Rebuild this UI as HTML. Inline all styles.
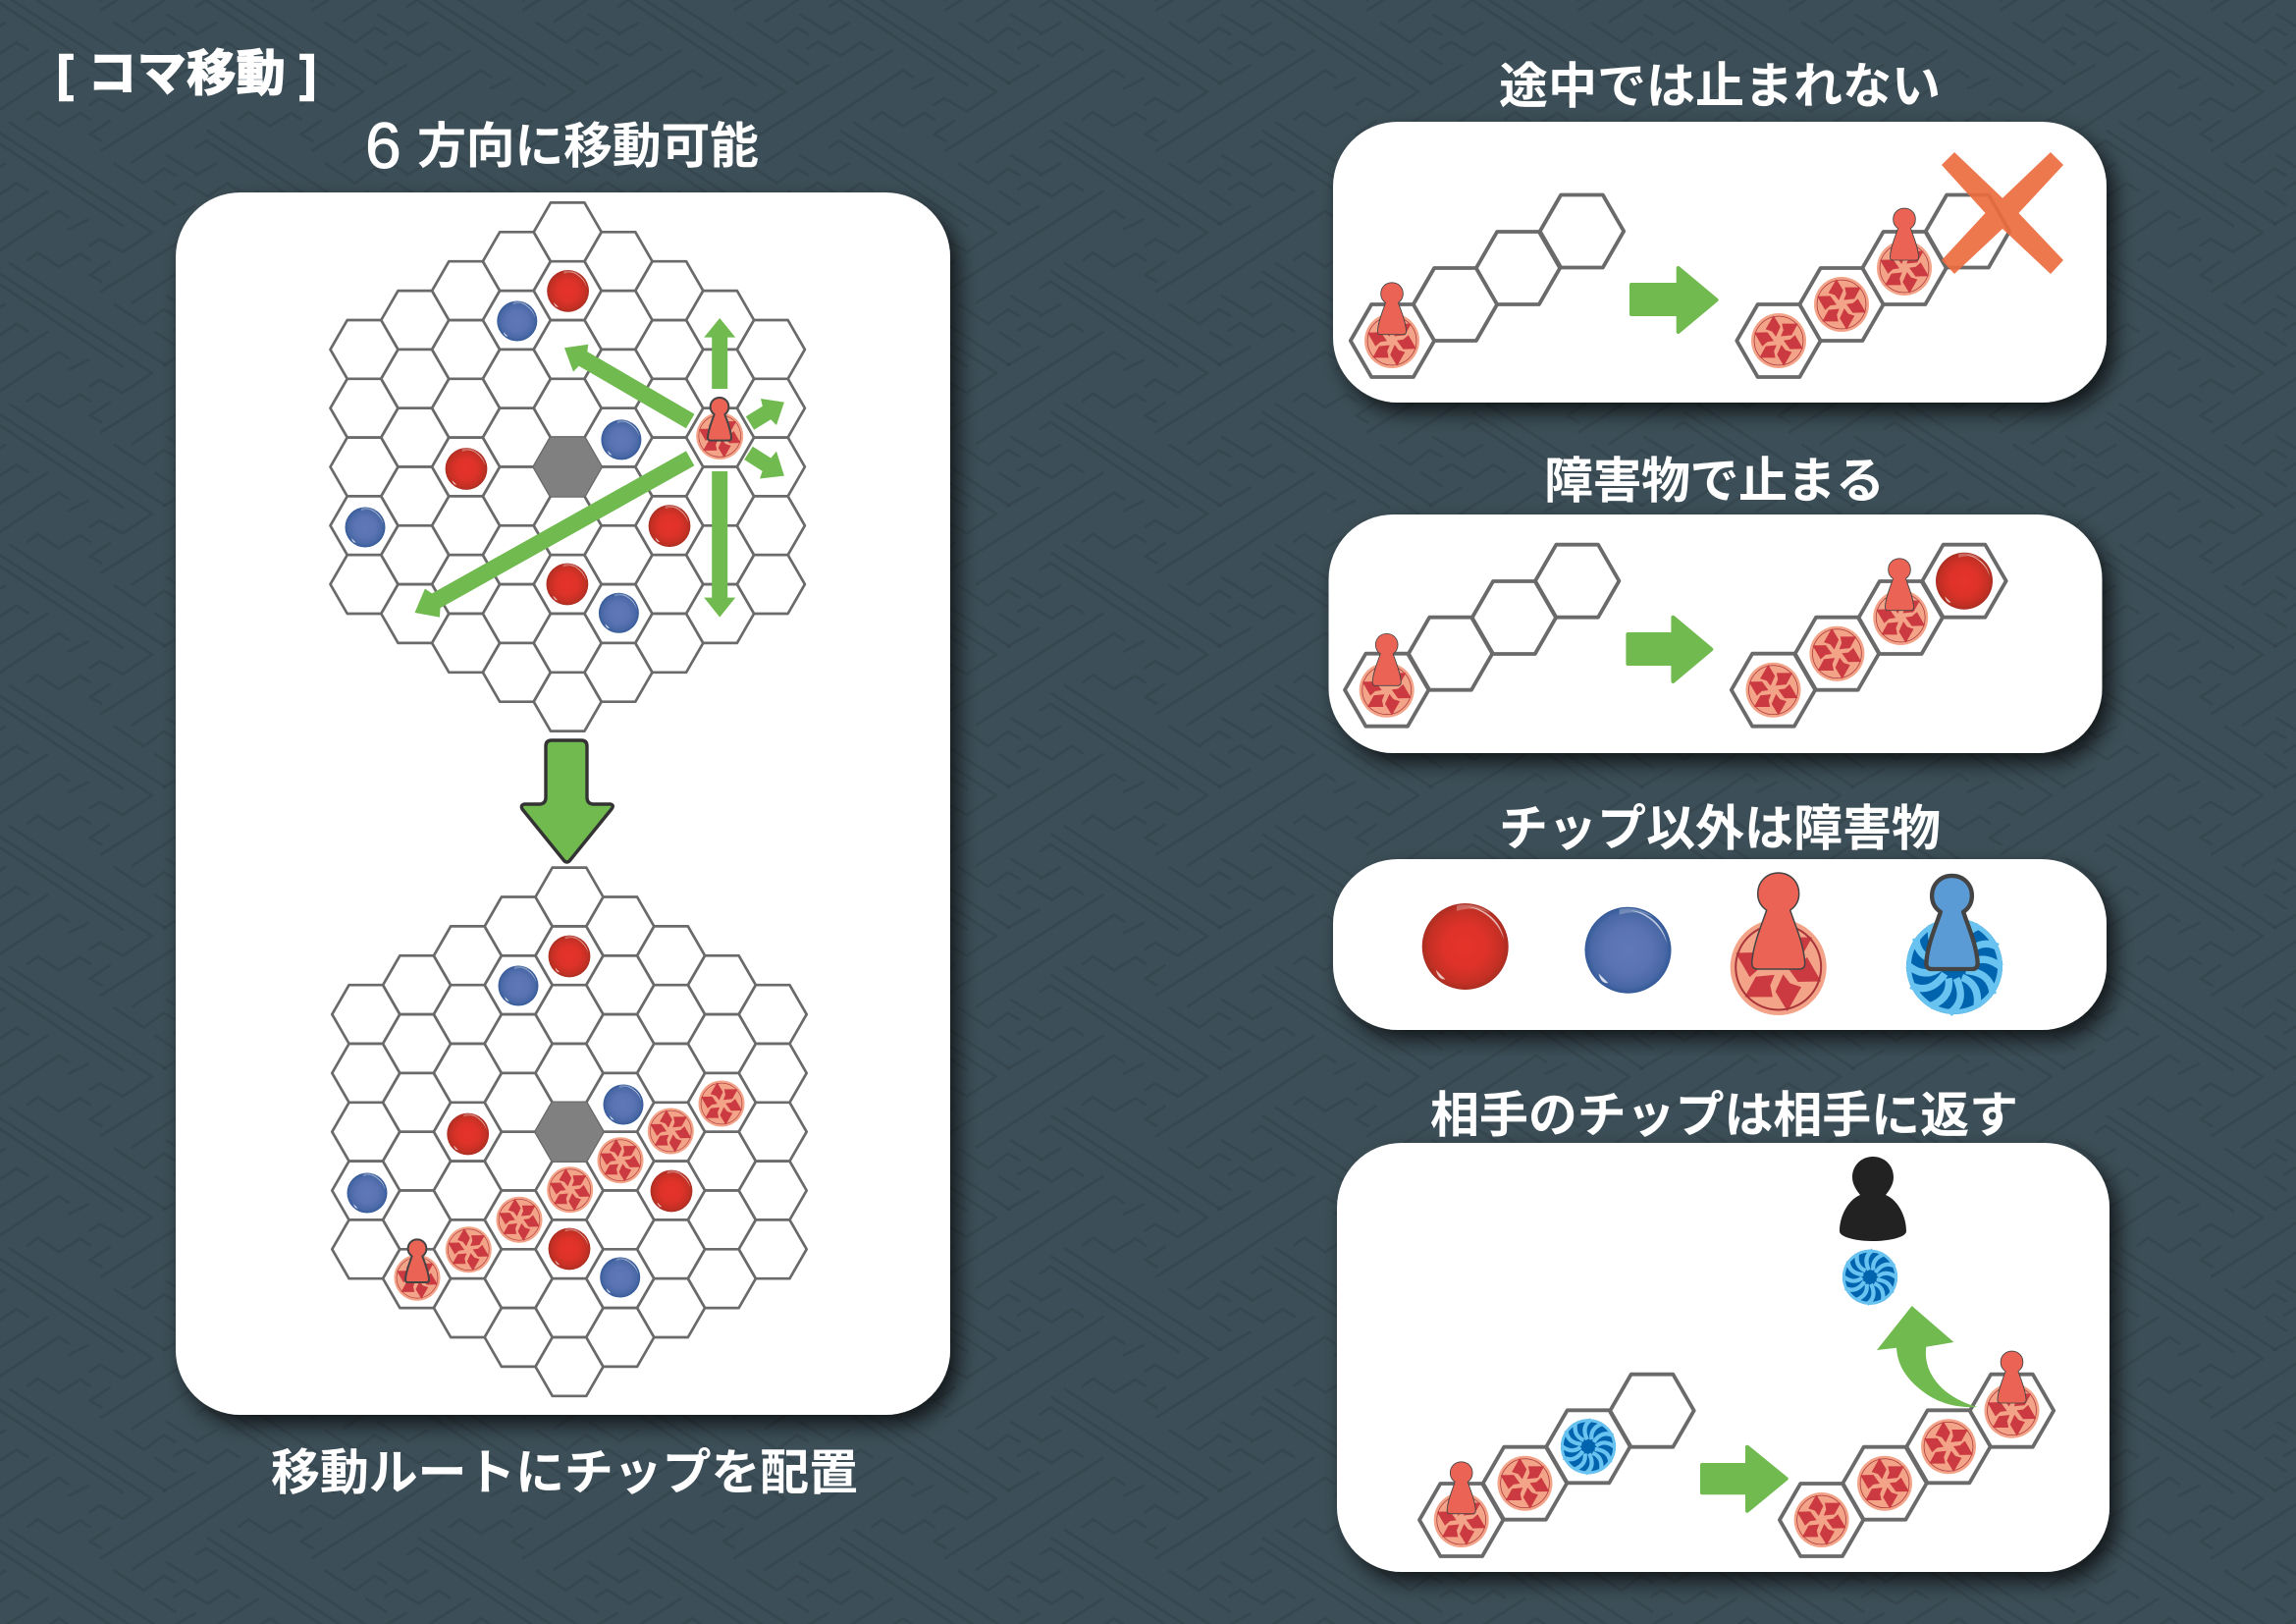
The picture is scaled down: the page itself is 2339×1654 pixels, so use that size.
<!DOCTYPE html>
<html lang="ja"><head><meta charset="utf-8"><title>コマ移動</title>
<style>
html,body{margin:0;padding:0;background:#3c4e57;width:2339px;height:1654px;overflow:hidden}
svg{display:block}
text{font-family:"Liberation Sans","Noto Sans CJK JP",sans-serif;font-weight:700;fill:#fff;font-size:50px}
</style></head><body>
<svg xmlns="http://www.w3.org/2000/svg" width="2339" height="1654" viewBox="0 0 2339 1654">
<defs>
<g id="bgl" fill="none" stroke-linecap="round">
<path id="bgp" d="M10 680L490 375M140 350L200 305M300 325L360 290M335 390L395 350M200 475L295 420M525 605L590 565M555 490L615 460M620 630L680 590M620 540L650 520M720 560L810 500M300 240L330 220M232 368L265 348M430 585L460 562M105 715L525 435M375 165L850 475M335 190L810 500M330 220L720 480M525 435L555 455M460 562L525 605M590 565L620 585M650 520L720 560M620 630L655 650M330 220L490 325M265 348L335 390M200 305L235 325M395 350L430 372M50 290L140 350M175 375L235 415M210 265L300 320" stroke="#2a383f" stroke-width="9" stroke-opacity=".16"/>
<use href="#bgp" style="stroke-width:4"/>
</g>
<pattern id="bg" patternUnits="userSpaceOnUse" width="645" height="430" patternTransform="translate(960 500) scale(.33333)">
<rect width="645" height="430" fill="#3c4e57"/>
<use href="#bgl"/><use href="#bgl" x="-645"/><use href="#bgl" y="-430"/><use href="#bgl" x="-645" y="-430"/>
</pattern>
<filter id="sh" x="-10%" y="-10%" width="125%" height="125%"><feDropShadow dx="8" dy="10" stdDeviation="10" flood-color="#000" flood-opacity=".7"/></filter>
<radialGradient id="gr"><stop offset="0" stop-color="#e6332a"/><stop offset=".5" stop-color="#de3229"/><stop offset=".85" stop-color="#c43024"/><stop offset="1" stop-color="#a92e22"/></radialGradient>
<radialGradient id="gb"><stop offset="0" stop-color="#5f78b8"/><stop offset=".55" stop-color="#5a73b2"/><stop offset=".85" stop-color="#4a68a6"/><stop offset="1" stop-color="#345a98"/></radialGradient>
<g id="dr"><circle r="100" fill="url(#gr)"/><path d="M5 -92A92 92 0 0 1 90 -15A110 110 0 0 0 5 -92Z" fill="#fff" fill-opacity=".65"/><path d="M-20 -95A96 96 0 0 1 60 -76A105 105 0 0 0 -20 -82Z" fill="#fff" fill-opacity=".28"/><path d="M-68 54L-46 76Q-62 78 -68 54Z" fill="#fff" fill-opacity=".7"/></g>
<g id="db"><circle r="100" fill="url(#gb)"/><path d="M5 -92A92 92 0 0 1 90 -15A110 110 0 0 0 5 -92Z" fill="#fff" fill-opacity=".65"/><path d="M-20 -95A96 96 0 0 1 60 -76A105 105 0 0 0 -20 -82Z" fill="#fff" fill-opacity=".25"/><path d="M-68 54L-46 76Q-62 78 -68 54Z" fill="#fff" fill-opacity=".8"/></g>
<polygon id="bl" points="12,-62 70,-62 47,-20 8,-16 17,-38" fill="#cb3a40"/>
<g id="pw"><use href="#bl"/><use href="#bl" transform="rotate(60)"/><use href="#bl" transform="rotate(120)"/><use href="#bl" transform="rotate(180)"/><use href="#bl" transform="rotate(240)"/><use href="#bl" transform="rotate(300)"/></g>
<g id="chip"><circle r="100" fill="#f3a388"/><circle r="89" fill="none" stroke="#a8353a" stroke-width="2.6"/><use href="#pw"/></g>
<g id="s"><path d="M20 -16Q50 -60 90 -40M28 -2Q60 -28 97 2" fill="none" stroke="#69c3f0" stroke-width="15"/></g>
<g id="bc"><circle r="100" fill="#0063ae"/><circle r="95" fill="none" stroke="#69c3f0" stroke-width="10"/><use href="#s"/><use href="#s" transform="rotate(60)"/><use href="#s" transform="rotate(120)"/><use href="#s" transform="rotate(180)"/><use href="#s" transform="rotate(240)"/><use href="#s" transform="rotate(300)"/><circle r="24" fill="#0063ae"/></g>
<path id="pawn" d="M-27,-6C-26,-25 -17,-45 -12,-60C-18,-64 -21,-70 -21,-77C-21,-89 -12,-98 0,-98C12,-98 21,-89 21,-77C21,-70 18,-64 12,-60C17,-45 26,-25 27,-6Q27,0 21,0L-21,0Q-27,0 -27,-6Z" stroke-linejoin="round"/>
<path id="h" d="M-34.5 0L-17.25 -29.9L17.25 -29.9L34.5 0L17.25 29.9L-17.25 29.9Z" fill="#fff" stroke="#6a6a6a" stroke-width="2.7" stroke-linejoin="round"/>
<path id="H" d="M-42.7 0L-21.35 -37L21.35 -37L42.7 0L21.35 37L-21.35 37Z" fill="#fff" stroke="#6a6a6a" stroke-width="3.8" stroke-linejoin="round"/>
<g id="e5"><use href="#h" y="-119.6"/><use href="#h" y="-59.8"/><use href="#h"/><use href="#h" y="59.8"/><use href="#h" y="119.6"/></g>
<g id="e7"><use href="#e5"/><use href="#h" y="-179.4"/><use href="#h" y="179.4"/></g>
<g id="e9"><use href="#e7"/><use href="#h" y="-239.2"/><use href="#h" y="239.2"/></g>
<g id="o6"><use href="#h" y="-149.5"/><use href="#h" y="-89.7"/><use href="#h" y="-29.9"/><use href="#h" y="29.9"/><use href="#h" y="89.7"/><use href="#h" y="149.5"/></g>
<g id="o8"><use href="#o6"/><use href="#h" y="-209.3"/><use href="#h" y="209.3"/></g>
<g id="board">
<use href="#e5" x="-207.2"/><use href="#o6" x="-155.4"/><use href="#e7" x="-103.6"/><use href="#o8" x="-51.8"/><use href="#e9"/><use href="#o8" x="51.8"/><use href="#e7" x="103.6"/><use href="#o6" x="155.4"/><use href="#e5" x="207.2"/>
<path d="M-33 0L-16.5 -28.6L16.5 -28.6L33 0L16.5 28.6L-16.5 28.6Z" fill="#808080" stroke="#808080" stroke-width="2.7" stroke-linejoin="round"/>
</g>
</defs>

<rect width="2339" height="1654" fill="url(#bg)"/>

<!-- panels -->
<rect x="179" y="196" width="789" height="1245" rx="66" fill="#fff" filter="url(#sh)"/>
<rect x="1358" y="124" width="788" height="286" rx="66" fill="#fff" filter="url(#sh)"/>
<rect x="1353.5" y="524" width="788" height="243" rx="66" fill="#fff" filter="url(#sh)"/>
<rect x="1358" y="875" width="788" height="174" rx="66" fill="#fff" filter="url(#sh)"/>
<rect x="1362" y="1164" width="787" height="437" rx="66" fill="#fff" filter="url(#sh)"/>

<!-- board 1 -->
<use href="#board" transform="translate(578.2 475.5)"/>
<use href="#dr" transform="translate(578.6 296.4) scale(.214)"/>
<use href="#dr" transform="translate(475 477.5) scale(.214)"/>
<use href="#dr" transform="translate(682 535.7) scale(.214)"/>
<use href="#dr" transform="translate(577.9 595) scale(.214)"/>
<use href="#db" transform="translate(526.8 327) scale(.205)"/>
<use href="#db" transform="translate(632.9 447.9) scale(.205)"/>
<use href="#db" transform="translate(372 537) scale(.205)"/>
<use href="#db" transform="translate(630.4 624.3) scale(.205)"/>
<use href="#chip" transform="translate(733.2 444) scale(.24)"/>
<use href="#pawn" transform="translate(733 448.6) scale(.445)" fill="#ea6355" stroke="#444" stroke-width="4.5"/>
<g fill="#70ba50" stroke="none">
<polygon points="733.2,324 749.2,343.6 741.2,343.6 741.2,396 725.2,396 725.2,343.6 717.2,343.6"/>
<polygon points="733.2,628.6 749.2,608.6 741.2,608.6 741.2,480 725.2,480 725.2,608.6 717.2,608.6"/>
<polygon points="575,354.3 599.3,350.7 598.3,358.1 707.5,421.7 698.9,436.3 589.7,372.7 584,378.6"/>
<polygon points="422.5,624 432.9,599.6 440.1,604.4 699,459.4 707.4,474.2 448.5,619.2 447.9,628.6"/>
<polygon points="798.9,409.6 775,406 776.8,413.7 759.8,424.2 768.2,437.8 785.2,427.3 791,433"/>
<polygon points="798.9,484.6 791,459.6 785.3,466.5 766.8,454.7 758.2,468.1 776.7,479.9 774,487.5"/>
</g>

<!-- big arrow -->
<path d="M556 760Q556 754 562 754L592 754Q598 754 598 760L598 812Q598 819 605 819L622 819Q626 820 623 824L580 877Q577.5 879 575 877L532 824Q530 820 534 819L549 819Q556 819 556 812Z" fill="#70ba50" stroke="#333" stroke-width="3.4" stroke-linejoin="round"/>

<!-- board 2 -->
<use href="#board" transform="translate(580 1152.7)"/>
<use href="#dr" transform="translate(580 974) scale(.214)"/>
<use href="#dr" transform="translate(476.7 1155) scale(.214)"/>
<use href="#dr" transform="translate(684 1213) scale(.214)"/>
<use href="#dr" transform="translate(580 1272) scale(.214)"/>
<use href="#db" transform="translate(528 1004) scale(.205)"/>
<use href="#db" transform="translate(635 1125) scale(.205)"/>
<use href="#db" transform="translate(374 1215) scale(.205)"/>
<use href="#db" transform="translate(631.7 1301) scale(.205)"/>
<use href="#chip" transform="translate(735 1124) scale(.235)"/>
<use href="#chip" transform="translate(683.3 1152) scale(.235)"/>
<use href="#chip" transform="translate(632 1181.7) scale(.235)"/>
<use href="#chip" transform="translate(580.7 1211.7) scale(.235)"/>
<use href="#chip" transform="translate(529 1242.3) scale(.235)"/>
<use href="#chip" transform="translate(477.3 1272.7) scale(.235)"/>
<use href="#chip" transform="translate(425 1301.3) scale(.235)"/>
<use href="#pawn" transform="translate(425 1306) scale(.445)" fill="#ea6355" stroke="#444" stroke-width="4.5"/>

<!-- panel 1 -->
<use href="#H" x="1418.5" y="347"/><use href="#H" x="1482.5" y="310"/><use href="#H" x="1546.5" y="273"/><use href="#H" x="1611.5" y="235.5"/>
<use href="#chip" transform="translate(1418 347) scale(.28)"/>
<use href="#pawn" transform="translate(1418 340.7) scale(.54)" fill="#ea6355" stroke="#444" stroke-width="1.6"/>
<polygon points="1662,290 1709.7,290 1709.7,273 1748.6,305.5 1709.7,338 1709.7,320 1662,320" fill="#70ba50" stroke="#70ba50" stroke-width="4" stroke-linejoin="round"/>
<use href="#H" x="1812" y="347"/><use href="#H" x="1876" y="310"/><use href="#H" x="1940" y="273"/><use href="#H" x="2004.5" y="235.5"/>
<use href="#chip" transform="translate(1812 347) scale(.28)"/>
<use href="#chip" transform="translate(1876 310) scale(.28)"/>
<use href="#chip" transform="translate(1940 273) scale(.28)"/>
<use href="#pawn" transform="translate(1940 265) scale(.54)" fill="#ea6355" stroke="#444" stroke-width="1.6"/>
<polygon points="1991,155 2040,201.7 2089,155 2102,168 2056.5,217 2102,265 2089,279 2040,233 1991,279 1978,265 2022.5,217 1978,168" fill="#ed6c3f" fill-opacity=".92"/>

<!-- panel 2 -->
<use href="#H" x="1412.7" y="702.7"/><use href="#H" x="1477.6" y="665.7"/><use href="#H" x="1542.4" y="629"/><use href="#H" x="1606.7" y="591.7"/>
<use href="#chip" transform="translate(1412.7 702.7) scale(.28)"/>
<use href="#pawn" transform="translate(1412.7 698.3) scale(.54)" fill="#ea6355" stroke="#444" stroke-width="1.6"/>
<polygon points="1658.4,646 1704.4,646 1704.4,628.7 1743.3,661.3 1704.4,694 1704.4,676 1658.4,676" fill="#70ba50" stroke="#70ba50" stroke-width="4" stroke-linejoin="round"/>
<use href="#H" x="1806.5" y="702.7"/><use href="#H" x="1871.4" y="665.7"/><use href="#H" x="1936.2" y="629"/><use href="#H" x="2001" y="591.7"/>
<use href="#chip" transform="translate(1806.5 702.7) scale(.28)"/>
<use href="#chip" transform="translate(1871.4 665.7) scale(.28)"/>
<use href="#chip" transform="translate(1936.2 629) scale(.28)"/>
<use href="#pawn" transform="translate(1935 621.7) scale(.54)" fill="#ea6355" stroke="#444" stroke-width="1.6"/>
<use href="#dr" transform="translate(2001 591.7) scale(.29)"/>

<!-- panel 3 -->
<use href="#dr" transform="translate(1492.7 964) scale(.44)"/>
<use href="#db" transform="translate(1658.5 967.7) scale(.44)"/>
<use href="#chip" transform="translate(1811.7 985) scale(.49)"/>
<circle cx="1811.7" cy="985" r="43.5" fill="none" stroke="#a8353a" stroke-width="2"/>
<use href="#pawn" transform="translate(1811.7 987)" fill="#ea6355" stroke="#444" stroke-width="1.5"/>
<use href="#bc" transform="translate(1991 984) scale(.49)"/>
<use href="#pawn" transform="translate(1988.5 987) scale(.97)" fill="#5b9bd5" stroke="#444" stroke-width="4.5"/>

<!-- panel 4 -->
<use href="#H" x="1488.7" y="1548"/><use href="#H" x="1553.5" y="1510.7"/><use href="#H" x="1618" y="1473.3"/><use href="#H" x="1683" y="1436.7"/>
<use href="#chip" transform="translate(1488.7 1548) scale(.28)"/>
<use href="#chip" transform="translate(1553.5 1510.7) scale(.28)"/>
<use href="#bc" transform="translate(1618 1473.3) scale(.28)"/>
<use href="#pawn" transform="translate(1488.7 1541.7) scale(.54)" fill="#ea6355" stroke="#444" stroke-width="1.6"/>
<polygon points="1734,1492 1780,1492 1780,1473.7 1819.7,1506 1780,1538.7 1780,1520.3 1734,1520.3" fill="#70ba50" stroke="#70ba50" stroke-width="4" stroke-linejoin="round"/>
<use href="#H" x="1855.6" y="1548"/><use href="#H" x="1920" y="1510.7"/><use href="#H" x="1985" y="1473.3"/><use href="#H" x="2049.5" y="1436.7"/>
<use href="#chip" transform="translate(1855.6 1548) scale(.28)"/>
<use href="#chip" transform="translate(1920 1510.7) scale(.28)"/>
<use href="#chip" transform="translate(1985 1473.3) scale(.28)"/>
<use href="#chip" transform="translate(2049.5 1436.7) scale(.28)"/>
<use href="#pawn" transform="translate(2049.5 1429) scale(.54)" fill="#ea6355" stroke="#444" stroke-width="1.6"/>
<path d="M1947.7 1330L1990.4 1367L1962.3 1371.7C1960 1390 1968 1405 1981.7 1416.7C1991 1424 2003 1430 2014.6 1433C1995 1434 1976 1430 1960 1418C1942 1405 1933 1390 1932 1372.7L1912 1375Z" fill="#70ba50"/>
<path d="M1908 1178C1920 1178 1929 1187 1929 1199C1929 1206 1925 1212 1921 1217C1933 1222 1942 1238 1942 1254C1942 1260 1925 1264 1908 1264C1891 1264 1874 1260 1874 1254C1874 1238 1883 1222 1895 1217C1891 1212 1887 1206 1887 1199C1887 1187 1896 1178 1908 1178Z" fill="#222"/>
<use href="#bc" transform="translate(1905 1300.7) scale(.28)"/>

<!-- text -->
<text x="58" y="92" style="font-size:50px;fill:#fff;stroke:#fff;stroke-width:1.6" textLength="264" lengthAdjust="spacing">[ コマ移動 ]</text>
<text x="372" y="171" style="font-size:66px;font-weight:400;stroke:#fff;stroke-width:1">6</text>
<text x="425" y="166" textLength="348" lengthAdjust="spacing">方向に移動可能</text>
<text x="276" y="1517" textLength="598" lengthAdjust="spacing">移動ルートにチップを配置</text>
<text x="1527" y="105" textLength="450" lengthAdjust="spacing">途中では止まれない</text>
<text x="1573" y="507" textLength="347" lengthAdjust="spacing">障害物で止まる</text>
<text x="1527" y="861" textLength="450" lengthAdjust="spacing">チップ以外は障害物</text>
<text x="1457" y="1153" textLength="599" lengthAdjust="spacing">相手のチップは相手に返す</text>
</svg>
</body></html>
